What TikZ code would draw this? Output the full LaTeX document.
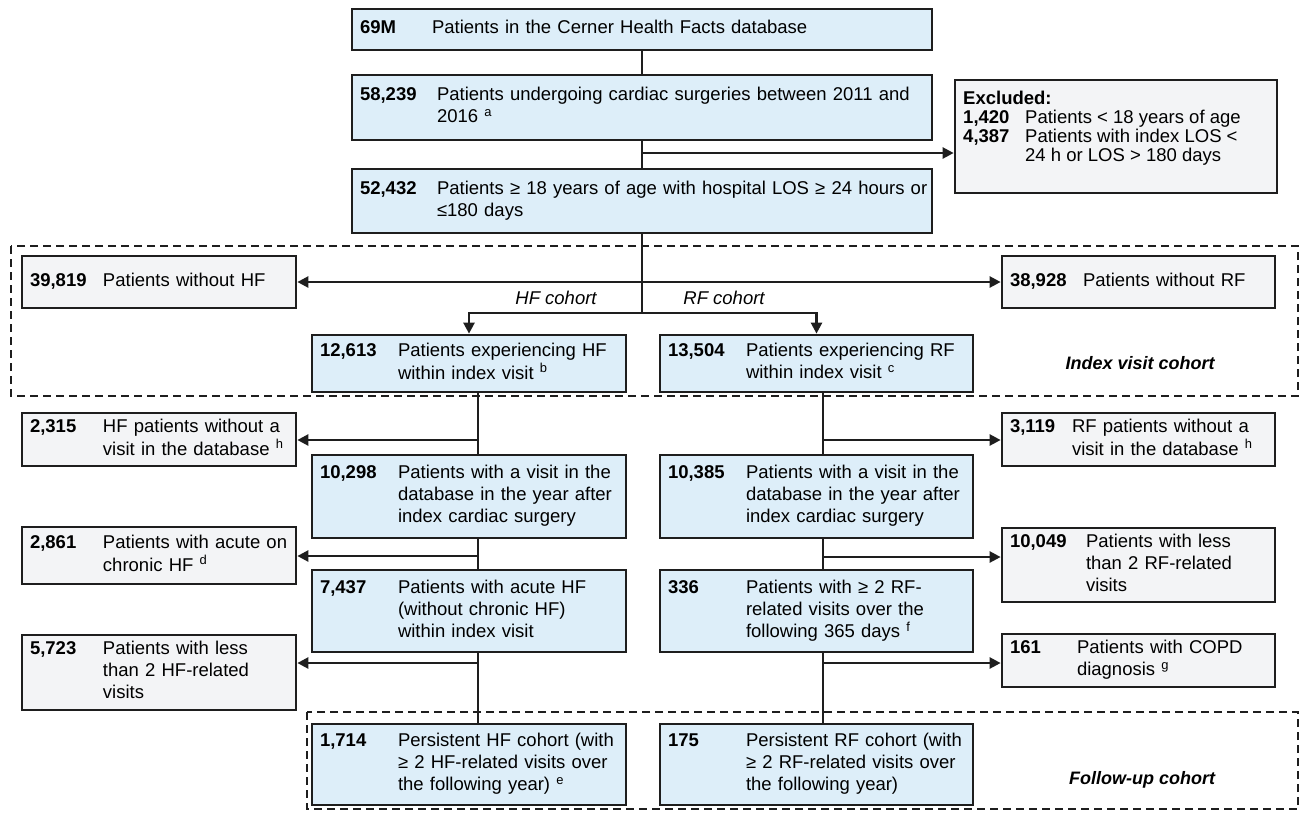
\documentclass[tikz,border=0pt]{standalone}
\usepackage{fontspec}
\setmainfont{Liberation Sans}
\usetikzlibrary{arrows.meta,calc}
\definecolor{boxblue}{HTML}{DDEEF9}
\definecolor{boxgrey}{HTML}{F3F4F6}
\definecolor{ink}{HTML}{1E1E1E}
\newcommand\flowbox[9]{%
  \pgfmathsetmacro\fbw{#5-#3}%
  \pgfmathsetmacro\fbh{#6-#4}%
  \pgfmathsetmacro\fbtw{#5-#3-16}%
  \node[#1, minimum width=\fbw pt, minimum height=\fbh pt, text width=\fbtw pt]
    (#2) at ({(#3+#5)/2},{(#4+#6)/2})
    {\begin{tabular}{@{}p{#7pt}@{}l@{}}\textbf{#8} & \begin{tabular}[t]{@{}l@{}}#9\end{tabular}\end{tabular}};}
\tikzset{
  basebox/.style={draw=ink, line width=2.7pt, inner xsep=8pt, inner ysep=0pt, align=left,
    font=\fontsize{18.5}{22}\selectfont, text=black},
  bluebox/.style={basebox, fill=boxblue},
  greybox/.style={basebox, fill=boxgrey},
  conn/.style={draw=ink, line width=2.4pt},
  arr/.style={conn, -{Triangle[length=11pt,width=11pt]}},
  cohort/.style={draw=ink, line width=1.9pt, dash pattern=on 8pt off 5pt},
  lbl/.style={font=\fontsize{18.5}{22}\selectfont\itshape},
  blbl/.style={font=\fontsize{18}{22}\selectfont\bfseries\itshape}
}
\begin{document}
\begin{tikzpicture}[x=1pt,y=-1pt]
\useasboundingbox (0,0) rectangle (1303,812);
% cohort frames
\draw[cohort] (11,246) rectangle (1298,396);
\draw[cohort] (307,712) rectangle (1298,809);
% main column
\flowbox{bluebox}{b1}{352}{9}{932}{50}{72}{69M}{Patients in the Cerner Health Facts database}
\flowbox{bluebox}{b2}{352}{75}{932}{140}{77}{58,239}{Patients undergoing cardiac surgeries between 2011 and\\2016 \textsuperscript{a}}
\flowbox{bluebox}{b3}{352}{169}{932}{233}{77}{52,432}{Patients ≥ 18 years of age with hospital LOS ≥ 24 hours or\\≤180 days}
% excluded
\node[greybox, minimum width=322pt, minimum height=113pt] (exc) at (1116,136.5) {};
\node[anchor=north west, inner sep=0pt, align=left, font=\fontsize{18.5}{20}\selectfont] (exctext) at (963,91)
  {\renewcommand\arraystretch{0.95}\begin{tabular}{@{}p{62pt}@{}l@{}}\multicolumn{2}{@{}l@{}}{\textbf{Excluded:}}\\
   \textbf{1,420} & Patients < 18 years of age\\
   \textbf{4,387} & Patients with index LOS <\\
   & 24 h or LOS > 180 days\end{tabular}};
% index visit row
\flowbox{greybox}{l1}{22}{256}{296}{308}{73}{39,819}{Patients without HF}
\flowbox{greybox}{r1}{1002}{256}{1275}{308}{73}{38,928}{Patients without RF}
\flowbox{bluebox}{hf1}{312}{335}{626}{392}{78}{12,613}{Patients experiencing HF\\within index visit \textsuperscript{b}}
\flowbox{bluebox}{rf1}{660}{335}{973}{392}{78}{13,504}{Patients experiencing RF\\within index visit \textsuperscript{c}}
% follow-up steps
\flowbox{greybox}{l2}{22}{413}{296}{466}{73}{2,315}{HF patients without a\\ visit in the database \textsuperscript{h}}
\flowbox{greybox}{r2}{1002}{413}{1275}{466}{62}{3,119}{RF patients without a\\ visit in the database \textsuperscript{h}}
\flowbox{bluebox}{hf2}{312}{455}{626}{538}{78}{10,298}{Patients with a visit in the\\database in the year after\\index cardiac surgery}
\flowbox{bluebox}{rf2}{660}{455}{973}{538}{78}{10,385}{Patients with a visit in the\\database in the year after\\index cardiac surgery}
\flowbox{greybox}{l3}{22}{527}{296}{584}{73}{2,861}{Patients with acute on\\ chronic HF \textsuperscript{d}}
\flowbox{greybox}{r3}{1002}{528}{1275}{602}{76}{10,049}{Patients with less\\ than 2 RF-related\\ visits}
\flowbox{bluebox}{hf3}{312}{570}{626}{652}{78}{7,437}{Patients with acute HF\\(without chronic HF)\\within index visit}
\flowbox{bluebox}{rf3}{660}{570}{973}{652}{78}{336}{Patients with ≥ 2 RF-\\related visits over the\\following 365 days \textsuperscript{f}}
\flowbox{greybox}{l4}{22}{635}{296}{710}{73}{5,723}{Patients with less\\ than 2 HF-related\\ visits}
\flowbox{greybox}{r4}{1002}{634}{1275}{687}{67}{161}{Patients with COPD\\diagnosis \textsuperscript{g}}
\flowbox{bluebox}{hf4}{312}{724}{626}{805}{78}{1,714}{Persistent HF cohort (with\\≥ 2 HF-related visits over\\the following year) \textsuperscript{e}}
\flowbox{bluebox}{rf4}{660}{724}{973}{805}{78}{175}{Persistent RF cohort (with\\≥ 2 RF-related visits over\\the following year)}
% labels
\node[lbl] (hflbl) at (556,298) {HF cohort};
\node[lbl] (rflbl) at (724,298) {RF cohort};
\node[blbl] (idxlbl) at (1140,363) {Index visit cohort};
\node[blbl] (fuplbl) at (1142,780) {Follow-up cohort};
% connectors: main column
\coordinate (j1) at (642,153);
\coordinate (j2) at (642,282);
\coordinate (j3) at (642,313);
\draw[conn] (b1.south) -- (b2.north);
\draw[conn] (b2.south) -- (b3.north);
\draw[arr] (j1) -- (j1 -| exc.west);
\draw[conn] (b3.south) -- (j3);
\draw[arr] (j2) -- (j2 -| l1.east);
\draw[arr] (j2) -- (j2 -| r1.west);
\draw[arr] (j3) -| (hf1.north);
\draw[arr] (j3) -| (rf1.north);
% HF branch
\coordinate (hx) at (478,0);
\coordinate (ha) at (478,440);
\coordinate (hb) at (478,556);
\coordinate (hc) at (478,663);
\draw[conn] (hf1.south -| hx) -- (hf2.north -| hx);
\draw[conn] (hf2.south -| hx) -- (hf3.north -| hx);
\draw[conn] (hf3.south -| hx) -- (hf4.north -| hx);
\draw[arr] (ha) -- (ha -| l2.east);
\draw[arr] (hb) -- (hb -| l3.east);
\draw[arr] (hc) -- (hc -| l4.east);
% RF branch
\coordinate (rx) at (823,0);
\coordinate (ra) at (823,440);
\coordinate (rb) at (823,557);
\coordinate (rc) at (823,663);
\draw[conn] (rf1.south -| rx) -- (rf2.north -| rx);
\draw[conn] (rf2.south -| rx) -- (rf3.north -| rx);
\draw[conn] (rf3.south -| rx) -- (rf4.north -| rx);
\draw[arr] (ra) -- (ra -| r2.west);
\draw[arr] (rb) -- (rb -| r3.west);
\draw[arr] (rc) -- (rc -| r4.west);
\end{tikzpicture}
\end{document}
